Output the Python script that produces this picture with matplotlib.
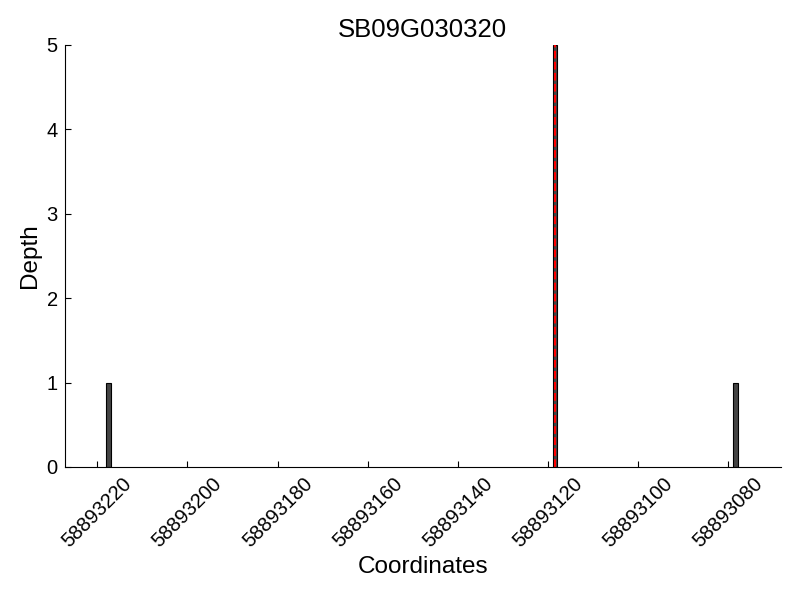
import matplotlib
matplotlib.use("Agg")
import matplotlib.pyplot as plt

plt.rcParams['font.family'] = ['Liberation Sans', 'DejaVu Sans']

# positions (left edge of each 1-bp bin) et profondeur
positions = [58893217, 58893118, 58893078]
depths = [1, 5, 1]
peak = 58893118.5
gene = "SB09G030320"
xticks = [58893220, 58893200, 58893180, 58893160, 58893140, 58893120, 58893100, 58893080]

fig = plt.figure(figsize=(8, 6), dpi=100)
ax = fig.add_axes([0.081, 0.2217, 0.895, 0.7033])
ax.bar(positions, depths, width=1, align='edge', color='#444444', edgecolor='black', linewidth=0.8)
ax.vlines(peak, 0, max(depths), colors='red', linestyles='--', linewidth=1.5)
ax.set_xlim(58893227.2, 58893068.4)
ax.set_ylim(0, 5)
ax.set_xticks(xticks)
ax.set_xticklabels([str(t) for t in xticks], rotation=45)
ax.set_yticks(range(6))
ax.tick_params(direction='in', labelsize=14.5, length=4, pad=5)
ax.spines['top'].set_visible(False)
ax.spines['right'].set_visible(False)
ax.set_xlabel("Coordinates", fontsize=17.5)
ax.set_ylabel("Depth", fontsize=17.5)
ax.set_title(gene, fontsize=18.5)
plt.savefig("out.png")
